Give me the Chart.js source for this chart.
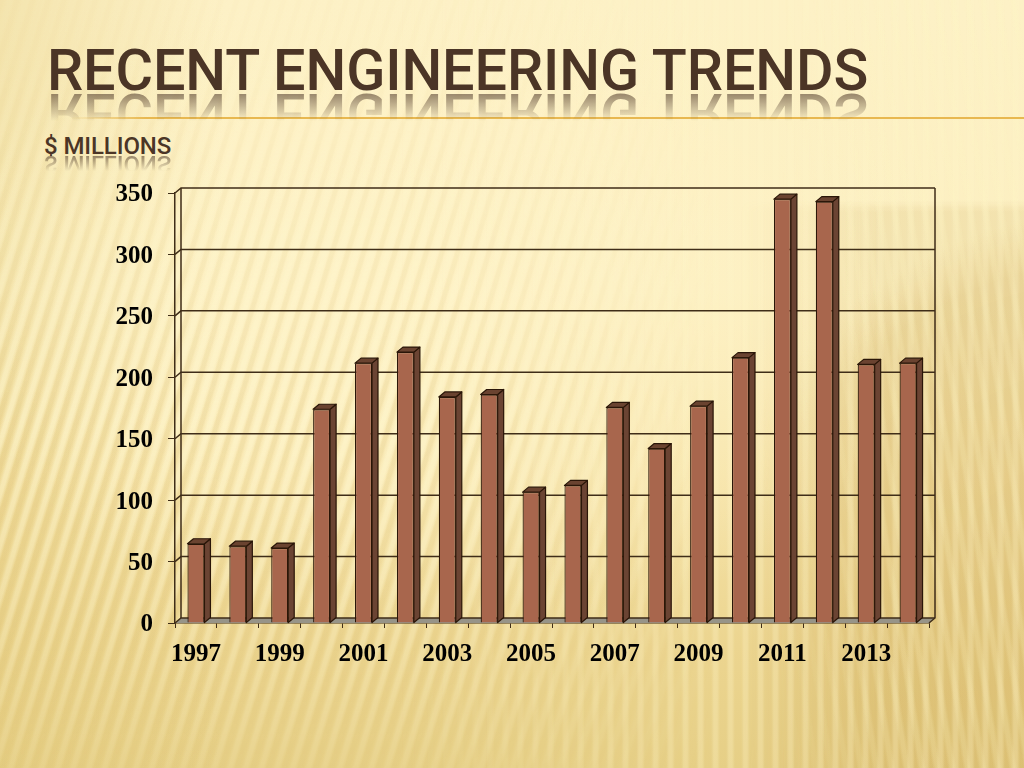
<!DOCTYPE html>
<html><head><meta charset="utf-8">
<script src="https://cdn.jsdelivr.net/npm/chart.js@4"></script>
<style>
html,body{margin:0;padding:0;width:1024px;height:768px;overflow:hidden}
.bg{position:absolute;left:0;top:0;width:1024px;height:768px}
#bg0{background:linear-gradient(180deg,#fdf1c6 0,#fcefc0 38%,#f6e3a8 62%,#ecd590 84%,#e6cf86 100%)}
#bg1{background:radial-gradient(ellipse 520px 330px at 450px 300px,rgba(255,243,200,.6) 0,rgba(255,243,200,.4) 55%,rgba(255,243,200,0) 100%),linear-gradient(90deg,rgba(225,200,120,.32) 0,rgba(225,200,120,0) 22%)}
#sw{background:radial-gradient(ellipse 430px 430px at 1120px 640px,rgba(205,170,90,.3) 0,rgba(205,170,90,.26) 88%,rgba(205,170,90,.08) 96%,rgba(205,170,90,0) 100%),linear-gradient(180deg,rgba(205,170,90,0) 200px,rgba(205,170,90,.18) 212px,rgba(205,170,90,.18) 100%);
 -webkit-mask-image:linear-gradient(90deg,transparent 740px,#000 880px)}
#st1{background:repeating-linear-gradient(107deg,rgba(255,248,210,0) 0 5px,rgba(255,248,210,.6) 8px 11px,rgba(255,248,210,0) 14px 15px),repeating-linear-gradient(107deg,rgba(200,165,80,.16) 0 3px,rgba(200,165,80,0) 5px 13px,rgba(200,165,80,.16) 15px);
 -webkit-mask-image:linear-gradient(180deg,rgba(0,0,0,.12) 60px,rgba(0,0,0,.9) 420px,rgba(0,0,0,.5) 640px,rgba(0,0,0,.2) 768px),linear-gradient(90deg,#000 0,#000 420px,transparent 720px);-webkit-mask-composite:source-in;mask-composite:intersect}
#st2{background:repeating-linear-gradient(90deg,rgba(255,245,200,0) 0 6px,rgba(255,245,200,.3) 9px 12px,rgba(255,245,200,0) 15px);
 -webkit-mask-image:linear-gradient(90deg,transparent 400px,#000 700px)}
#st3{background:repeating-linear-gradient(81deg,rgba(255,245,195,0) 0 6px,rgba(255,245,195,.22) 9px 12px,rgba(255,245,195,0) 15px);
 -webkit-mask-image:linear-gradient(90deg,transparent 780px,#000 900px)}
.t{position:absolute;white-space:nowrap;color:#4b3526;font-family:Roboto,sans-serif;font-weight:500}
#title,#titleR{left:47px;top:33px;font-size:57.5px;line-height:76px;height:76px;letter-spacing:-.09px}
#titleR{transform:scaleY(-1);transform-origin:0 59px;-webkit-mask-image:linear-gradient(0deg,transparent 17px,rgba(0,0,0,.6) 17px,transparent 46px)}
#sub,#subR{left:44px;top:131px;font-size:24px;line-height:30px;height:30px;letter-spacing:-.1px}
#subR{transform:scaleY(-1);transform-origin:0 24px;-webkit-mask-image:linear-gradient(0deg,transparent 6px,rgba(0,0,0,.6) 6px,transparent 22px)}
#rule{position:absolute;left:70px;top:117px;width:954px;height:2px;background:linear-gradient(90deg,rgba(232,176,64,0),#e8b850 8%,#e8b850 100%)}
canvas{position:absolute;left:0;top:0}
</style></head>
<body>
<div class="bg" id="bg0"></div><div class="bg" id="bg1"></div><div class="bg" id="sw"></div>
<div class="bg" id="st1"></div><div class="bg" id="st2"></div><div class="bg" id="st3"></div>
<div id="rule"></div>
<div class="t" id="titleR" aria-hidden="true">RECENT ENGINEERING TRENDS</div>
<div class="t" id="title">RECENT ENGINEERING TRENDS</div>
<div class="t" id="subR" aria-hidden="true">$ MILLIONS</div>
<div class="t" id="sub">$ MILLIONS</div>
<canvas id="c" width="1024" height="768"></canvas>
<script>
const categories=['1997','1998','1999','2000','2001','2002','2003','2004','2005','2006','2007','2008','2009','2010','2011','2012','2013','2014'];
const engineering=[64.5,62.5,61,174,211.5,220.5,184,186,106.5,112,175.5,142,176.5,216,345,343,210.5,211.5];
const yTicks=[0,50,100,150,200,250,300,350];
const DX=6,DY=5;
const lineColor='#3f2d18';
const walls={id:'walls',beforeDatasetsDraw(ch){
  const c=ch.ctx,x=ch.scales.x,y=ch.scales.y,L=x.left,R=x.right,B=y.getPixelForValue(0),T=y.getPixelForValue(350);
  c.save();
  c.fillStyle='#979488';
  c.beginPath();c.moveTo(L,B);c.lineTo(L+DX,B-DY);c.lineTo(R+DX,B-DY);c.lineTo(R,B);c.closePath();c.fill();
  c.strokeStyle=lineColor;c.lineWidth=1.5;
  for(const v of yTicks){const p=y.getPixelForValue(v);
    c.beginPath();c.moveTo(L,p);c.lineTo(L+DX,p-DY);c.lineTo(R+DX,p-DY);c.stroke();}
  c.beginPath();c.moveTo(L+DX,B-DY);c.lineTo(L+DX,T-DY);c.moveTo(R+DX,T-DY);c.lineTo(R+DX,B-DY);c.lineTo(R,B);c.stroke();
  c.restore();
}};
const sides={id:'sides',afterDatasetsDraw(ch){
  const c=ch.ctx;
  c.save();c.strokeStyle='#2a1608';c.lineWidth=1.2;c.lineJoin='round';
  ch.getDatasetMeta(0).data.forEach(b=>{
    const l=b.x-b.width/2,r=b.x+b.width/2,t=b.y,s=b.base;
    c.fillStyle='#6b4433';
    c.beginPath();c.moveTo(r,t);c.lineTo(r+DX,t-DY);c.lineTo(r+DX,s-DY);c.lineTo(r,s);c.closePath();c.fill();c.stroke();
    c.fillStyle='#6a4330';
    c.beginPath();c.moveTo(l,t);c.lineTo(l+DX,t-DY);c.lineTo(r+DX,t-DY);c.lineTo(r,t);c.closePath();c.fill();c.stroke();
  });
  c.restore();
}};
const tickFont={family:'"Liberation Serif",serif',size:25,weight:'bold'};
new Chart(document.getElementById('c'),{
  type:'bar',
  data:{labels:categories,datasets:[{data:engineering,backgroundColor:'#a8664d',borderColor:'#2a1608',borderWidth:1.2,barPercentage:1,categoryPercentage:17/41.9}]},
  plugins:[walls,sides],
  options:{responsive:false,animation:false,
    layout:{padding:{left:0,right:95,top:193,bottom:0}},
    plugins:{legend:{display:false},tooltip:{enabled:false},title:{display:false}},
    scales:{
      x:{offset:true,afterFit(s){s.height=145},
        grid:{offset:true,drawOnChartArea:false,drawTicks:true,tickLength:5,color:lineColor},
        border:{display:true,color:lineColor,width:1.5},
        ticks:{font:tickFont,color:'#000',autoSkip:false,maxRotation:0,padding:12,
          callback(v,i){return i%2===0?this.getLabelForValue(v):''}}},
      y:{min:0,max:350,afterFit(s){s.width=175},
        afterBuildTicks(s){s.ticks=yTicks.map(v=>({value:v}))},
        grid:{drawOnChartArea:false,drawTicks:true,tickLength:7,color:lineColor},
        border:{display:true,color:lineColor,width:1.5},
        ticks:{font:tickFont,color:'#000',padding:15,labelOffset:2}}
    }
  }
});
</script>
</body></html>
